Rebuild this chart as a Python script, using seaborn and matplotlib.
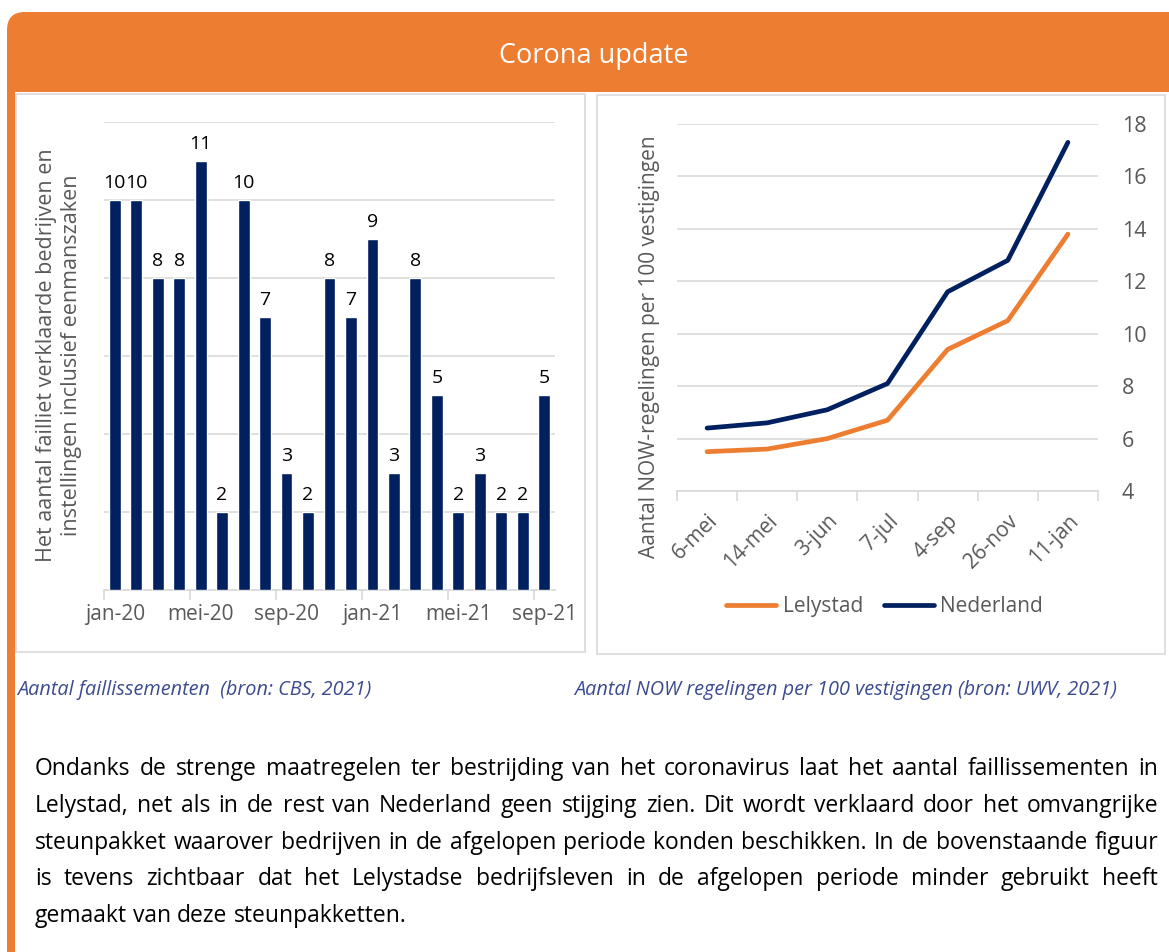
import matplotlib
matplotlib.use("Agg")
import matplotlib.pyplot as plt
from matplotlib.patches import FancyBboxPatch, Rectangle
import numpy as np
import pandas as pd
import seaborn as sns

W, H = 1169, 952
NAVY = "#002060"
ORANGE = "#ED7D31"
GREY = "#595959"
GRID = "#D9D9D9"
CAPTION = "#3B4B8F"

# faillissementen per maand, jan-20 .. sep-21
months = ["jan-20", "feb-20", "mrt-20", "apr-20", "mei-20", "jun-20", "jul-20",
          "aug-20", "sep-20", "okt-20", "nov-20", "dec-20", "jan-21", "feb-21",
          "mrt-21", "apr-21", "mei-21", "jun-21", "jul-21", "aug-21", "sep-21"]
faillissementen = [10, 10, 8, 8, 11, 2, 10, 7, 3, 2, 8, 7, 9, 3, 8, 5, 2, 3, 2, 2, 5]
bar_tick_labels = ["jan-20", "mei-20", "sep-20", "jan-21", "mei-21", "sep-21"]

# NOW-regelingen per 100 vestigingen
now_dates = ["6-mei", "14-mei", "3-jun", "7-jul", "4-sep", "26-nov", "11-jan"]
lelystad = [5.5, 5.6, 6.0, 6.7, 9.4, 10.5, 13.8]
nederland = [6.4, 6.6, 7.1, 8.1, 11.6, 12.8, 17.3]

body_lines = [
    "Ondanks de strenge maatregelen ter bestrijding van het coronavirus laat het aantal faillissementen in",
    "Lelystad, net als in de rest van Nederland geen stijging zien. Dit wordt verklaard door het omvangrijke",
    "steunpakket waarover bedrijven in de afgelopen periode konden beschikken. In de bovenstaande figuur",
    "is tevens zichtbaar dat het Lelystadse bedrijfsleven in de afgelopen periode minder gebruikt heeft",
    "gemaakt van deze steunpakketten.",
]


def box(x0, y0, x1, y1):
    """pixel box (top-left origin) -> figure fraction rect"""
    return [x0 / W, 1 - y1 / H, (x1 - x0) / W, (y1 - y0) / H]


sns.set_theme(style="white")
plt.rcParams["font.family"] = ["Open Sans", "DejaVu Sans"]

fig = plt.figure(figsize=(W / 100, H / 100), dpi=100)

# page background, header and panels
bg = fig.add_axes([0, 0, 1, 1])
bg.set_xlim(0, W)
bg.set_ylim(H, 0)
bg.axis("off")
bg.add_patch(FancyBboxPatch((7, 12), 1300, 130, boxstyle="round,pad=0,rounding_size=18",
                            fc=ORANGE, ec="none"))
bg.add_patch(Rectangle((15, 92), W, H, fc="white", ec="none"))
bg.add_patch(Rectangle((7, 92), 8, H, fc=ORANGE, ec="none"))
bg.add_patch(Rectangle((16, 94), 569, 558, fill=False, ec=GRID, lw=1.2))
bg.add_patch(Rectangle((597, 95), 568, 559, fill=False, ec=GRID, lw=1.2))
bg.text(594, 56, "Corona update", color="white", fontsize=19.5, ha="center", va="center")

# left: bar chart
ax1 = fig.add_axes(box(104, 122, 555, 590))
ax1.set_facecolor("none")
sns.barplot(x=months, y=faillissementen, color=NAVY, saturation=1, width=0.55,
            ax=ax1, zorder=3)
ax1.bar_label(ax1.containers[0], padding=6, fontsize=14, color="black")
ax1.set_ylim(0, 12)
ax1.set_yticks(range(0, 13, 2))
ax1.yaxis.grid(True, color=GRID, lw=1.2)
ax1.set_axisbelow(True)
ax1.set_xlim(-0.5, 20.5)
ax1.set_xticks(range(0, 21, 4), bar_tick_labels)
ax1.set_xticks(np.arange(-0.5, 20, 4), minor=True)
ax1.tick_params(axis="x", which="major", length=0, pad=10, labelsize=15, labelcolor=GREY)
ax1.tick_params(axis="x", which="minor", length=7, width=1.2, color=GRID, direction="out",
                bottom=True)
ax1.tick_params(axis="y", length=0, labelleft=False)
for s in ["top", "right", "left"]:
    ax1.spines[s].set_visible(False)
ax1.spines["bottom"].set_color(GRID)
ax1.spines["bottom"].set_linewidth(1.2)
ax1.set_ylabel("Het aantal failliet verklaarde bedrijven en\ninstellingen inclusief eenmanszaken",
               fontsize=15.5, color=GREY, linespacing=1.25)
ax1.yaxis.set_label_coords(-0.048, 0.502)

# right: line chart
df = pd.DataFrame({
    "datum": now_dates * 2,
    "regelingen": lelystad + nederland,
    "gebied": ["Lelystad"] * len(lelystad) + ["Nederland"] * len(nederland),
})
ax2 = fig.add_axes(box(677, 124, 1098, 491))
ax2.set_facecolor("none")
sns.lineplot(data=df, x="datum", y="regelingen", hue="gebied", palette=[ORANGE, NAVY],
             linewidth=3.4, sort=False, ax=ax2)
ax2.set_xlim(-0.5, 6.5)
ax2.set_ylim(4, 18)
ax2.yaxis.tick_right()
ax2.set_yticks(range(4, 19, 2))
ax2.yaxis.grid(True, color=GRID, lw=1.2)
ax2.set_axisbelow(True)
ax2.set_xticks(range(len(now_dates)))
ax2.set_xticklabels(now_dates, rotation=45, ha="right", rotation_mode="anchor")
ax2.set_xticks(np.arange(-0.5, 7, 1), minor=True)
ax2.tick_params(axis="x", which="major", length=0, pad=14, labelsize=15, labelcolor=GREY)
ax2.tick_params(axis="x", which="minor", length=7, width=1.2, color=GRID, direction="out",
                bottom=True)
ax2.tick_params(axis="y", length=0, pad=17, labelsize=15.5, labelcolor=GREY)
for s in ["top", "right", "left"]:
    ax2.spines[s].set_visible(False)
ax2.spines["bottom"].set_color(GRID)
ax2.spines["bottom"].set_linewidth(1.2)
ax2.set_xlabel("")
ax2.set_ylabel("Aantal NOW-regelingen per 100 vestigingen", fontsize=15, color=GREY)
ax2.yaxis.set_label_position("left")
ax2.yaxis.set_label_coords(-0.040, 0.392)
sns.move_legend(ax2, "center", bbox_to_anchor=(0.493, -0.316), ncol=2, frameon=False,
                title=None, fontsize=15, handlelength=2.4, handletextpad=0.3,
                columnspacing=1.0, labelcolor=GREY)

# captions
bg.text(17, 690, "Aantal faillissementen  (bron: CBS, 2021)", style="italic",
        fontsize=14.3, color=CAPTION, va="center")
bg.text(574, 690, "Aantal NOW regelingen per 100 vestigingen (bron: UWV, 2021)",
        style="italic", fontsize=14.3, color=CAPTION, va="center")

# justified body text
renderer = fig.canvas.get_renderer()
left, right = 35, 1158
fs = 16.5
probe_a = bg.text(0, 0, "x x", fontsize=fs)
probe_b = bg.text(0, 0, "xx", fontsize=fs)
space = (probe_a.get_window_extent(renderer).width
         - probe_b.get_window_extent(renderer).width)
probe_a.remove()
probe_b.remove()
for i, line in enumerate(body_lines):
    y = 775 + i * 36.8
    words = line.split()
    texts = [bg.text(0, y, w, fontsize=fs, va="baseline", color="black") for w in words]
    widths = [t.get_window_extent(renderer).width for t in texts]
    if i < len(body_lines) - 1:
        gap = (right - left - sum(widths)) / (len(words) - 1)
    else:
        gap = space
    x = left
    for t, w in zip(texts, widths):
        t.set_x(x)
        x += w + gap

fig.savefig("out.png", dpi=100)
plt.close()
